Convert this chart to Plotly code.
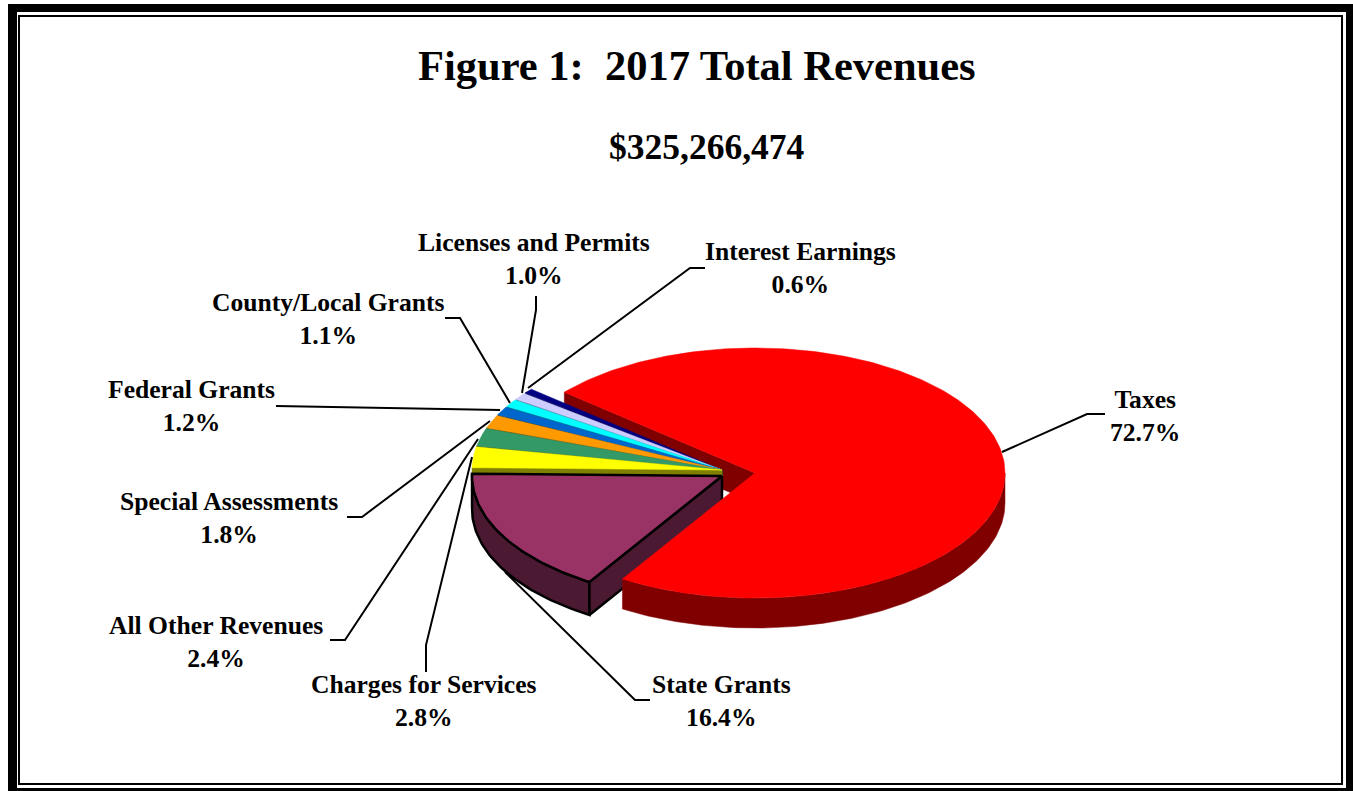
import numpy as np
import plotly.graph_objects as go

# ---- data ----
categories = ["Taxes", "State Grants", "Charges for Services", "All Other Revenues",
              "Special Assessments", "Federal Grants", "County/Local Grants",
              "Licenses and Permits", "Interest Earnings"]
percent = [72.7, 16.4, 2.8, 2.4, 1.8, 1.2, 1.1, 1.0, 0.6]
title_text = "Figure 1:  2017 Total Revenues"
subtitle_text = "$325,266,474"

# ---- styles ----
top_colors = ["#FF0000", "#993366", "#FFFF00", "#339966", "#FF9900",
              "#0066CC", "#00FFFF", "#CCCCFF", "#000080"]
side_colors = ["#800000", "#4C1933", "#808000", "#1A4D33", "#804D00",
               "#003366", "#008080", "#666680", "#000040"]
FONT = "Liberation Serif"
W, H = 1353, 791

# ---- pie geometry ----
START = 310.3
RX, RY = 250, 125
CENTER = (722, 473)
offsets = [(33, 0), (0, 3), (0, -3), (0, -3), (0, -3), (0, -3), (0, -3), (0, -3), (0, -3)]
depths = [30, 33, 36, 36, 36, 36, 36, 36, 36]
GAP = 0.45

angles = [START]
for p in percent:
    angles.append(angles[-1] + p * 3.6)


def rim(cx, cy, a0, a1, dy=0):
    a = np.linspace(a0, a1, max(int(abs(a1 - a0)) + 2, 2))
    r = np.radians(a)
    return cx + RX * np.sin(r), cy - RY * np.cos(r) + dy


def poly(fig, xs, ys, fill, name, line=None, width=0):
    fig.add_trace(go.Scatter(
        x=list(xs) + [xs[0]], y=list(ys) + [ys[0]], mode="lines", fill="toself",
        fillcolor=fill, name=name, hoverinfo="name", showlegend=False,
        line=dict(color=line or fill, width=width if line else 0.5)))


def cut_face(fig, i, angle, line=None, width=0):
    cx, cy = CENTER[0] + offsets[i][0], CENTER[1] + offsets[i][1]
    d = depths[i]
    px, py = rim(cx, cy, angle, angle + 1e-6)
    poly(fig, [cx, px[0], px[0], cx], [cy, py[0], py[0] + d, cy + d],
         side_colors[i], categories[i], line, width)


def rim_face(fig, i, a0, a1, line=None, width=0):
    cx, cy = CENTER[0] + offsets[i][0], CENTER[1] + offsets[i][1]
    tx, ty = rim(cx, cy, a0, a1)
    bx, by = rim(cx, cy, a1, a0, depths[i])
    poly(fig, np.r_[tx, bx], np.r_[ty, by], side_colors[i], categories[i], line, width)


def top_face(fig, i, a0, a1, line=None, width=0):
    cx, cy = CENTER[0] + offsets[i][0], CENTER[1] + offsets[i][1]
    tx, ty = rim(cx, cy, a0, a1)
    poly(fig, np.r_[cx, tx], np.r_[cy, ty], top_colors[i], categories[i], line, width)


fig = go.Figure()

# Taxes: the cut face behind the small slices
cut_face(fig, 0, angles[0] + 360)

# small slices, back to front
for i in range(len(percent) - 1, 1, -1):
    cut_face(fig, i, angles[i])
    a1 = angles[i + 1] - (GAP if i < len(percent) - 1 else 0)
    top_face(fig, i, angles[i], a1)

# State Grants with outline
rim_face(fig, 1, angles[1], angles[2], "#000000", 2.5)
cut_face(fig, 1, angles[1], "#000000", 2.5)
top_face(fig, 1, angles[1], angles[2], "#000000", 2.5)

# Taxes rim and top, in front
rim_face(fig, 0, 360 + 90, angles[1])
top_face(fig, 0, angles[0], angles[1])

# ---- labels ----
label_pos = [(1145, 416), (721, 701), (424, 701), (229, 518), (216, 642),
             (191, 406), (328, 319), (534, 259), (800, 268)]
label_pos = [label_pos[0], label_pos[1], label_pos[2], label_pos[4], label_pos[3],
             label_pos[5], label_pos[6], label_pos[7], label_pos[8]]
annotations = []
for name, p, (lx, ly) in zip(categories, percent, label_pos):
    annotations.append(dict(
        x=lx, y=ly, xref="x", yref="y", showarrow=False, align="center",
        text=f"<b>{name}<br>{p:.1f}%</b>", font=dict(family=FONT, size=25.6, color="black")))
annotations.append(dict(x=697, y=65, xref="x", yref="y", showarrow=False,
                        text=f"<b>{title_text}</b>",
                        font=dict(family=FONT, size=42.5, color="black")))
annotations.append(dict(x=707, y=147, xref="x", yref="y", showarrow=False,
                        text=f"<b>{subtitle_text}</b>",
                        font=dict(family=FONT, size=35.5, color="black")))

# ---- leader lines ----
leaders = [
    [(1002, 452), (1087, 414), (1105, 414)],
    [(505, 572), (635, 700), (650, 700)],
    [(472, 457), (426, 645), (426, 672)],
    [(478, 439), (345, 640), (330, 640)],
    [(490, 421), (362, 517), (347, 517)],
    [(276, 406), (500, 410)],
    [(445, 318), (460, 318), (510, 403)],
    [(536, 296), (536, 310), (522, 393)],
    [(528, 388), (690, 268), (705, 268)],
]
shapes = []
for pts in leaders:
    path = "M " + " L ".join(f"{x},{y}" for x, y in pts)
    shapes.append(dict(type="path", path=path, xref="x", yref="y",
                       line=dict(color="black", width=2)))

# ---- frame ----
frame = [
    dict(type="rect", xref="x", yref="y", x0=8, y0=4, x1=1353, y1=791,
         fillcolor="black", line=dict(width=0), layer="below"),
    dict(type="rect", xref="x", yref="y", x0=17, y0=12, x1=1346, y1=788,
         fillcolor="white", line=dict(width=0), layer="below"),
    dict(type="rect", xref="x", yref="y", x0=19, y0=16, x1=1342, y1=784,
         fillcolor="white", line=dict(color="black", width=2), layer="below"),
]

fig.update_layout(
    width=W, height=H, margin=dict(l=0, r=0, t=0, b=0), autosize=False,
    paper_bgcolor="white", plot_bgcolor="rgba(0,0,0,0)", showlegend=False,
    xaxis=dict(range=[0, W], visible=False, fixedrange=True),
    yaxis=dict(range=[H, 0], visible=False, fixedrange=True),
    annotations=annotations, shapes=frame + shapes,
)
fig.write_html("out.html", config={"displayModeBar": False},
               post_script="document.body.style.margin='0';document.body.style.overflow='hidden';")
